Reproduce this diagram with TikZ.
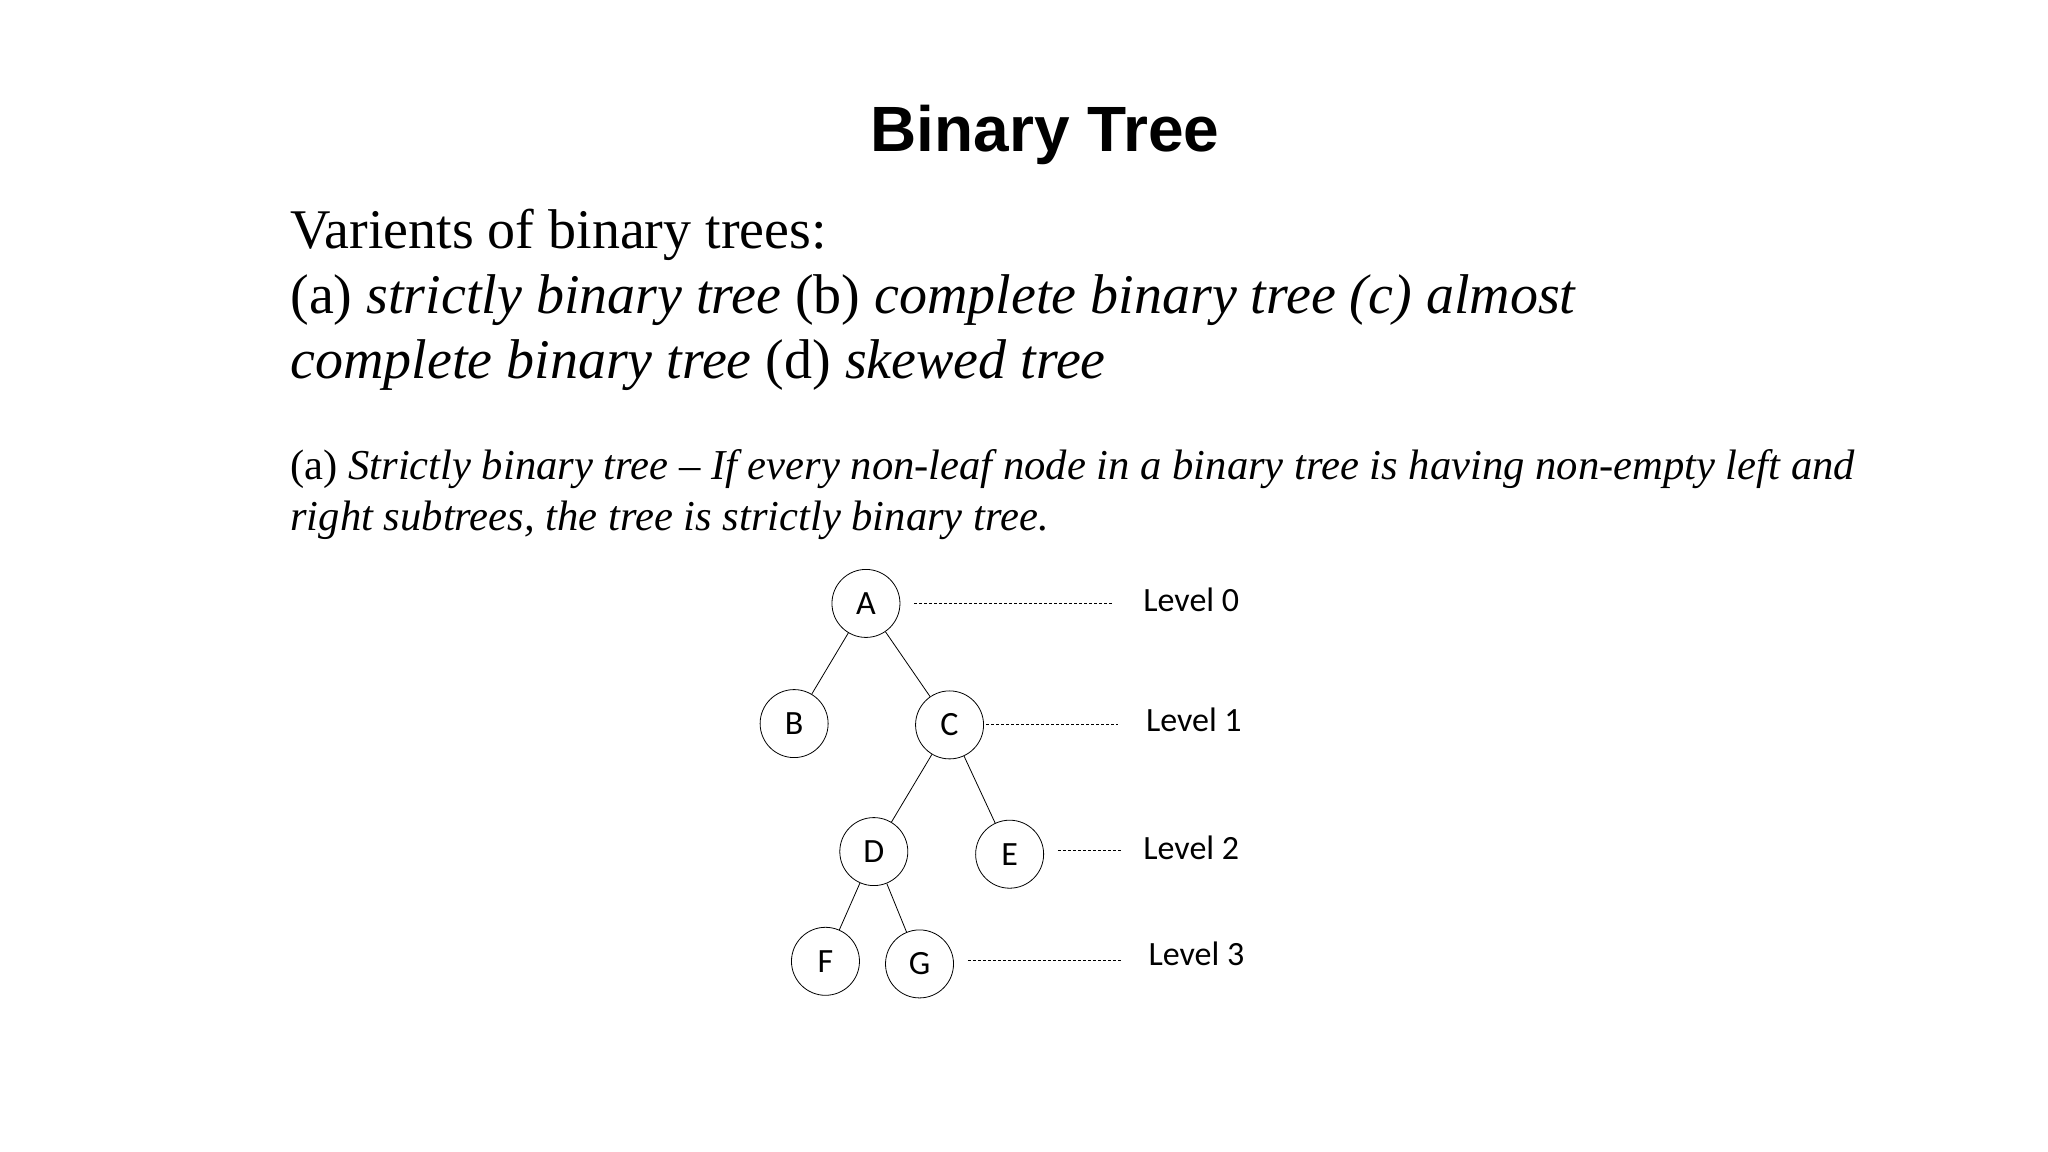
\documentclass[tikz,border=0pt]{standalone}
\usepackage{fontspec}
\setmainfont{Liberation Serif}
\newfontfamily\titlefont{Liberation Sans}
\newfontfamily\nodefont{Carlito}
\begin{document}
\begin{tikzpicture}[x=0.653pt,y=-0.653pt,
  tn/.style={draw,circle,minimum size=34pt,inner sep=0pt,font=\nodefont\fontsize{17}{20}\selectfont},
  lvl/.style={anchor=west,font=\nodefont\fontsize{17}{20}\selectfont},
  txt/.style={anchor=base west,inner sep=0pt}]
\useasboundingbox (0,0) rectangle (1568,882);
\node[font=\titlefont\bfseries\fontsize{32}{38}\selectfont] (title) at (800,103) {Binary Tree};
\begin{scope}[every node/.style={txt,font=\fontsize{28}{32}\selectfont}]
\node (l1) at (222,190) {Varients of binary trees:};
\node (l2) at (222,240) {(a) \textit{strictly binary tree} (b) \textit{complete binary tree (c) almost}};
\node (l3) at (222,290) {\textit{complete binary tree} (d) \textit{skewed tree}};
\end{scope}
\begin{scope}[every node/.style={txt,font=\fontsize{21.3}{25}\selectfont}]
\node (p1) at (222,367) {(a) \textit{Strictly binary tree -- If every non-leaf node in a binary tree is having non-empty left and}};
\node (p2) at (222,406) {\textit{right subtrees, the tree is strictly binary tree.}};
\end{scope}
\node[tn] (A) at (663,462) {A};
\node[tn] (B) at (608,554) {B};
\node[tn] (C) at (727,555) {C};
\node[tn] (D) at (669,652) {D};
\node[tn] (E) at (773,654) {E};
\node[tn] (F) at (632,736) {F};
\node[tn] (G) at (704,738) {G};
\draw (A)--(B); \draw (A)--(C); \draw (C)--(D); \draw (C)--(E); \draw (D)--(F); \draw (D)--(G);
\node[lvl] (L0) at (870,459) {Level 0};
\node[lvl] (L1) at (872,551) {Level 1};
\node[lvl] (L2) at (870,649) {Level 2};
\node[lvl] (L3) at (874,730) {Level 3};
\coordinate (a0) at (700,462); \coordinate (b0) at (852,462);
\coordinate (a1) at (755,555); \coordinate (b1) at (856,555);
\coordinate (a2) at (810,651); \coordinate (b2) at (858,651);
\coordinate (a3) at (741,735); \coordinate (b3) at (859,735);
\foreach \i in {0,1,2,3} \draw[dash pattern=on 1.5pt off 1pt,line width=0.4pt] (a\i)--(b\i);
\end{tikzpicture}
\end{document}
